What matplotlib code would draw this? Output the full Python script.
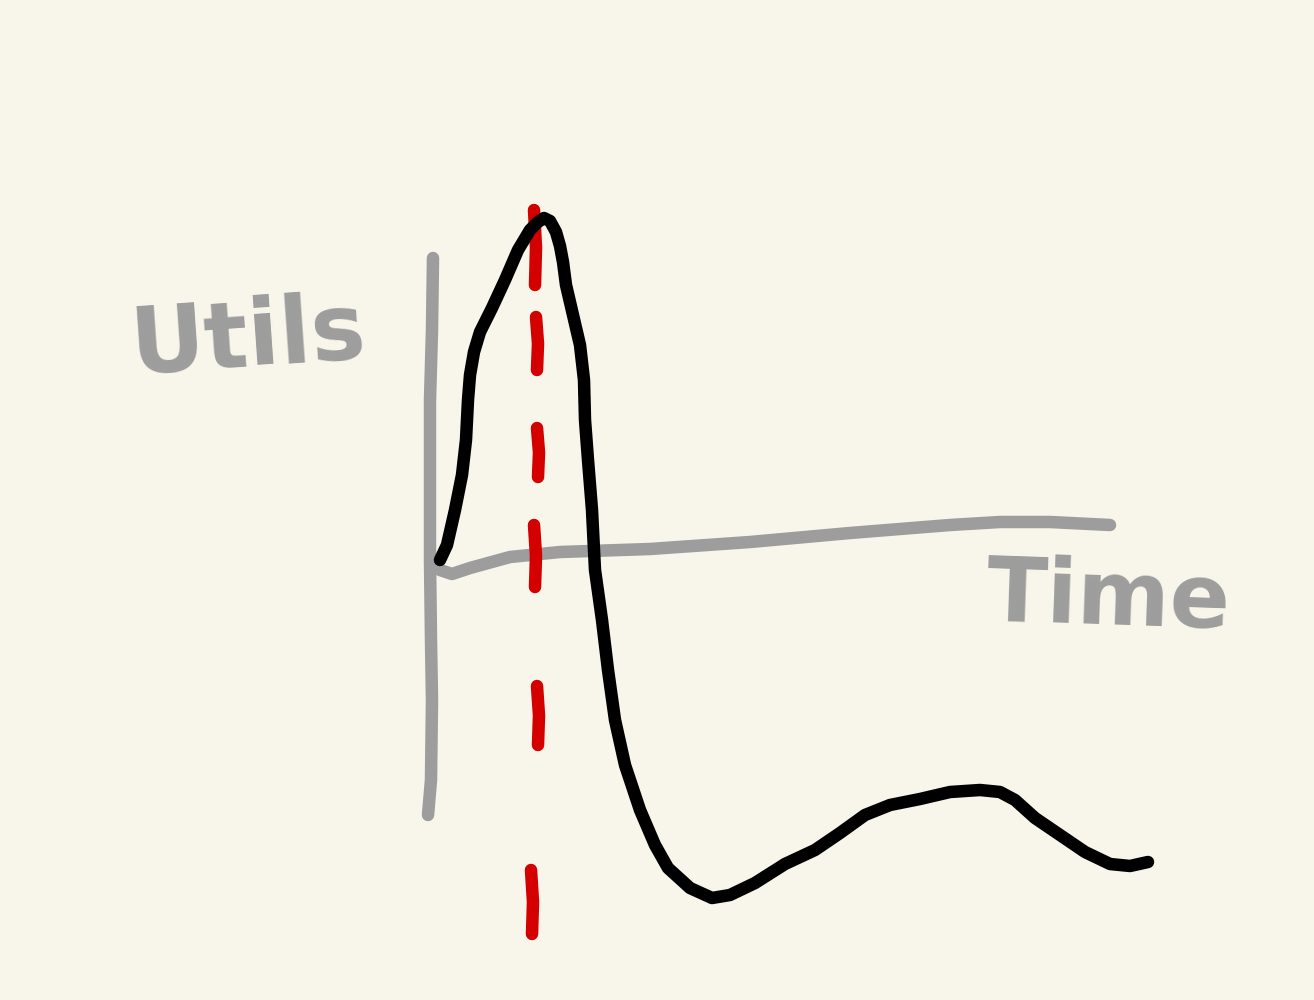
import matplotlib
matplotlib.use("Agg")
import matplotlib.pyplot as plt

# hand-drawn sketch, coordinates in canvas pixels (y grows downward)
curveX = [440, 447, 455, 462, 466, 468, 470, 474, 480, 492, 505, 518, 530, 538, 544, 550,
          556, 560, 563, 566, 573, 580, 584, 585, 588, 592, 595, 602, 608, 615, 625, 640,
          655, 668, 690, 712, 730, 755, 785, 815, 840, 865, 890, 920, 950, 980, 1000,
          1015, 1035, 1060, 1085, 1110, 1130, 1148]
curveY = [560, 545, 510, 475, 440, 400, 375, 352, 332, 308, 280, 250, 230, 222, 218, 221,
          232, 246, 262, 285, 315, 345, 380, 420, 460, 510, 570, 620, 670, 720, 765, 810,
          845, 868, 888, 898, 895, 883, 864, 850, 833, 815, 805, 799, 792, 790, 792,
          800, 818, 835, 852, 864, 866, 862]

yAxisX = [433, 432, 430, 430, 430, 431, 432, 431, 428]
yAxisY = [258, 330, 400, 480, 560, 640, 700, 780, 815]

xAxisX = [440, 452, 470, 510, 560, 650, 750, 850, 950, 1000, 1050, 1110]
xAxisY = [570, 574, 568, 557, 552, 549, 542, 533, 525, 522, 522, 525]

# red dashed marker: one (x, yStart, yEnd) per dash
dashX = [535, 537, 538, 535, 538, 532]
dashTop = [210, 317, 428, 525, 686, 870]
dashBottom = [285, 370, 477, 587, 745, 934]

BG = '#f8f6ea'
GREY = '#9d9d9d'
RED = '#d40000'

fig = plt.figure(figsize=(13.14, 10), dpi=100, facecolor=BG)
ax = fig.add_axes([0, 0, 1, 1])
ax.set_facecolor(BG)
ax.set_xlim(0, 1314)
ax.set_ylim(1000, 0)
ax.axis('off')

lw = 9
ax.plot(yAxisX, yAxisY, color=GREY, lw=lw, solid_capstyle='round', solid_joinstyle='round')
ax.plot(xAxisX, xAxisY, color=GREY, lw=lw, solid_capstyle='round', solid_joinstyle='round')

for x, top, bottom in zip(dashX, dashTop, dashBottom):
    ax.plot([x - 1, x + 1, x], [top, (top + bottom) / 2, bottom], color=RED, lw=lw,
            solid_capstyle='round', solid_joinstyle='round')

ax.plot(curveX, curveY, color='black', lw=lw, solid_capstyle='round', solid_joinstyle='round')

ax.text(248, 340, 'Utils', color=GREY, fontsize=66, fontweight='bold',
        ha='center', va='center', rotation=4)
ax.text(1108, 600, 'Time', color=GREY, fontsize=64, fontweight='bold',
        ha='center', va='center', rotation=-2)

fig.savefig('out.png', dpi=100, facecolor=BG)
